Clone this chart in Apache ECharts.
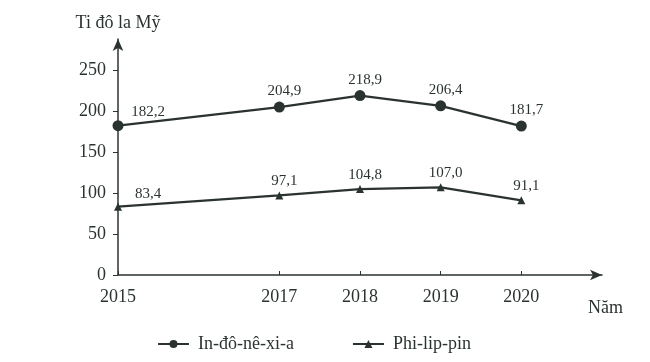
<!DOCTYPE html>
<html>
<head>
<meta charset="utf-8">
<script src="https://cdn.jsdelivr.net/npm/echarts@6/dist/echarts.min.js"></script>
<style>html,body{margin:0;padding:0;background:#fff}#c{width:650px;height:362px}</style>
</head>
<body>
<div id="c"></div>
<script>
var years = [2015, 2017, 2018, 2019, 2020];
var indonesia = [182.2, 204.9, 218.9, 206.4, 181.7];
var philippines = [83.4, 97.1, 104.8, 107.0, 91.1];
var yTicks = [0, 50, 100, 150, 200, 250];
var seriesNames = ['In-đô-nê-xi-a', 'Phi-lip-pin'];

var ink = '#2b3330';
var font = '"Liberation Serif", "DejaVu Serif", serif';

function fmt(v) { return v.toFixed(1).replace('.', ','); }
function build(vals) {
  return years.map(function (y, i) {
    var d = { value: [y, vals[i]] };
    if (i === 0) d.label = { position: 'top', offset: [30, 2] };
    return d;
  });
}

var chart = echarts.init(document.getElementById('c'));
chart.setOption({
  animation: false,
  backgroundColor: '#fff',
  grid: { left: 118, right: 48, top: 39, bottom: 87 },
  xAxis: {
    type: 'value', min: 2015, max: 2021,
    name: 'Năm', nameLocation: 'end', nameGap: -14,
    nameTextStyle: { color: ink, fontFamily: font, fontSize: 18, align: 'left', verticalAlign: 'top', padding: [24, 0, 0, 0] },
    axisLine: { show: true, lineStyle: { color: ink, width: 1.5 }, symbol: ['none', 'arrow'], symbolSize: [8, 12] },
    axisTick: { show: true, inside: true, length: 4, customValues: years, lineStyle: { color: ink } },
    axisLabel: { customValues: years, color: ink, fontFamily: font, fontSize: 18, margin: 13, formatter: function (v) { return String(v); } },
    splitLine: { show: false }
  },
  yAxis: {
    type: 'value', min: 0, max: 288,
    name: 'Ti đô la Mỹ', nameLocation: 'end', nameGap: 7,
    nameTextStyle: { color: ink, fontFamily: font, fontSize: 18, align: 'center' },
    axisLine: { show: true, lineStyle: { color: ink, width: 1.5 }, symbol: ['none', 'arrow'], symbolSize: [8, 12] },
    axisTick: { show: true, length: 5, customValues: yTicks, lineStyle: { color: ink } },
    axisLabel: { customValues: yTicks, color: ink, fontFamily: font, fontSize: 18, margin: 12 },
    splitLine: { show: false }
  },
  legend: {
    left: 152, top: 330, itemWidth: 31, itemHeight: 10, itemGap: 58,
    textStyle: { color: ink, fontFamily: font, fontSize: 18, padding: [0, 0, 0, 4] },
    data: seriesNames
  },
  series: [
    {
      name: seriesNames[0], type: 'line', data: build(indonesia),
      symbol: 'circle', symbolSize: 11,
      lineStyle: { color: ink, width: 2.2 }, itemStyle: { color: ink },
      label: { show: true, position: 'top', distance: 3, offset: [5, 0], color: ink, fontFamily: font, fontSize: 15,
        formatter: function (p) { return fmt(p.value[1]); } }
    },
    {
      name: seriesNames[1], type: 'line', data: build(philippines),
      symbol: 'triangle', symbolSize: 8,
      lineStyle: { color: ink, width: 2.2 }, itemStyle: { color: ink },
      label: { show: true, position: 'top', distance: 3, offset: [5, 0], color: ink, fontFamily: font, fontSize: 15,
        formatter: function (p) { return fmt(p.value[1]); } }
    }
  ]
});
</script>
</body>
</html>
